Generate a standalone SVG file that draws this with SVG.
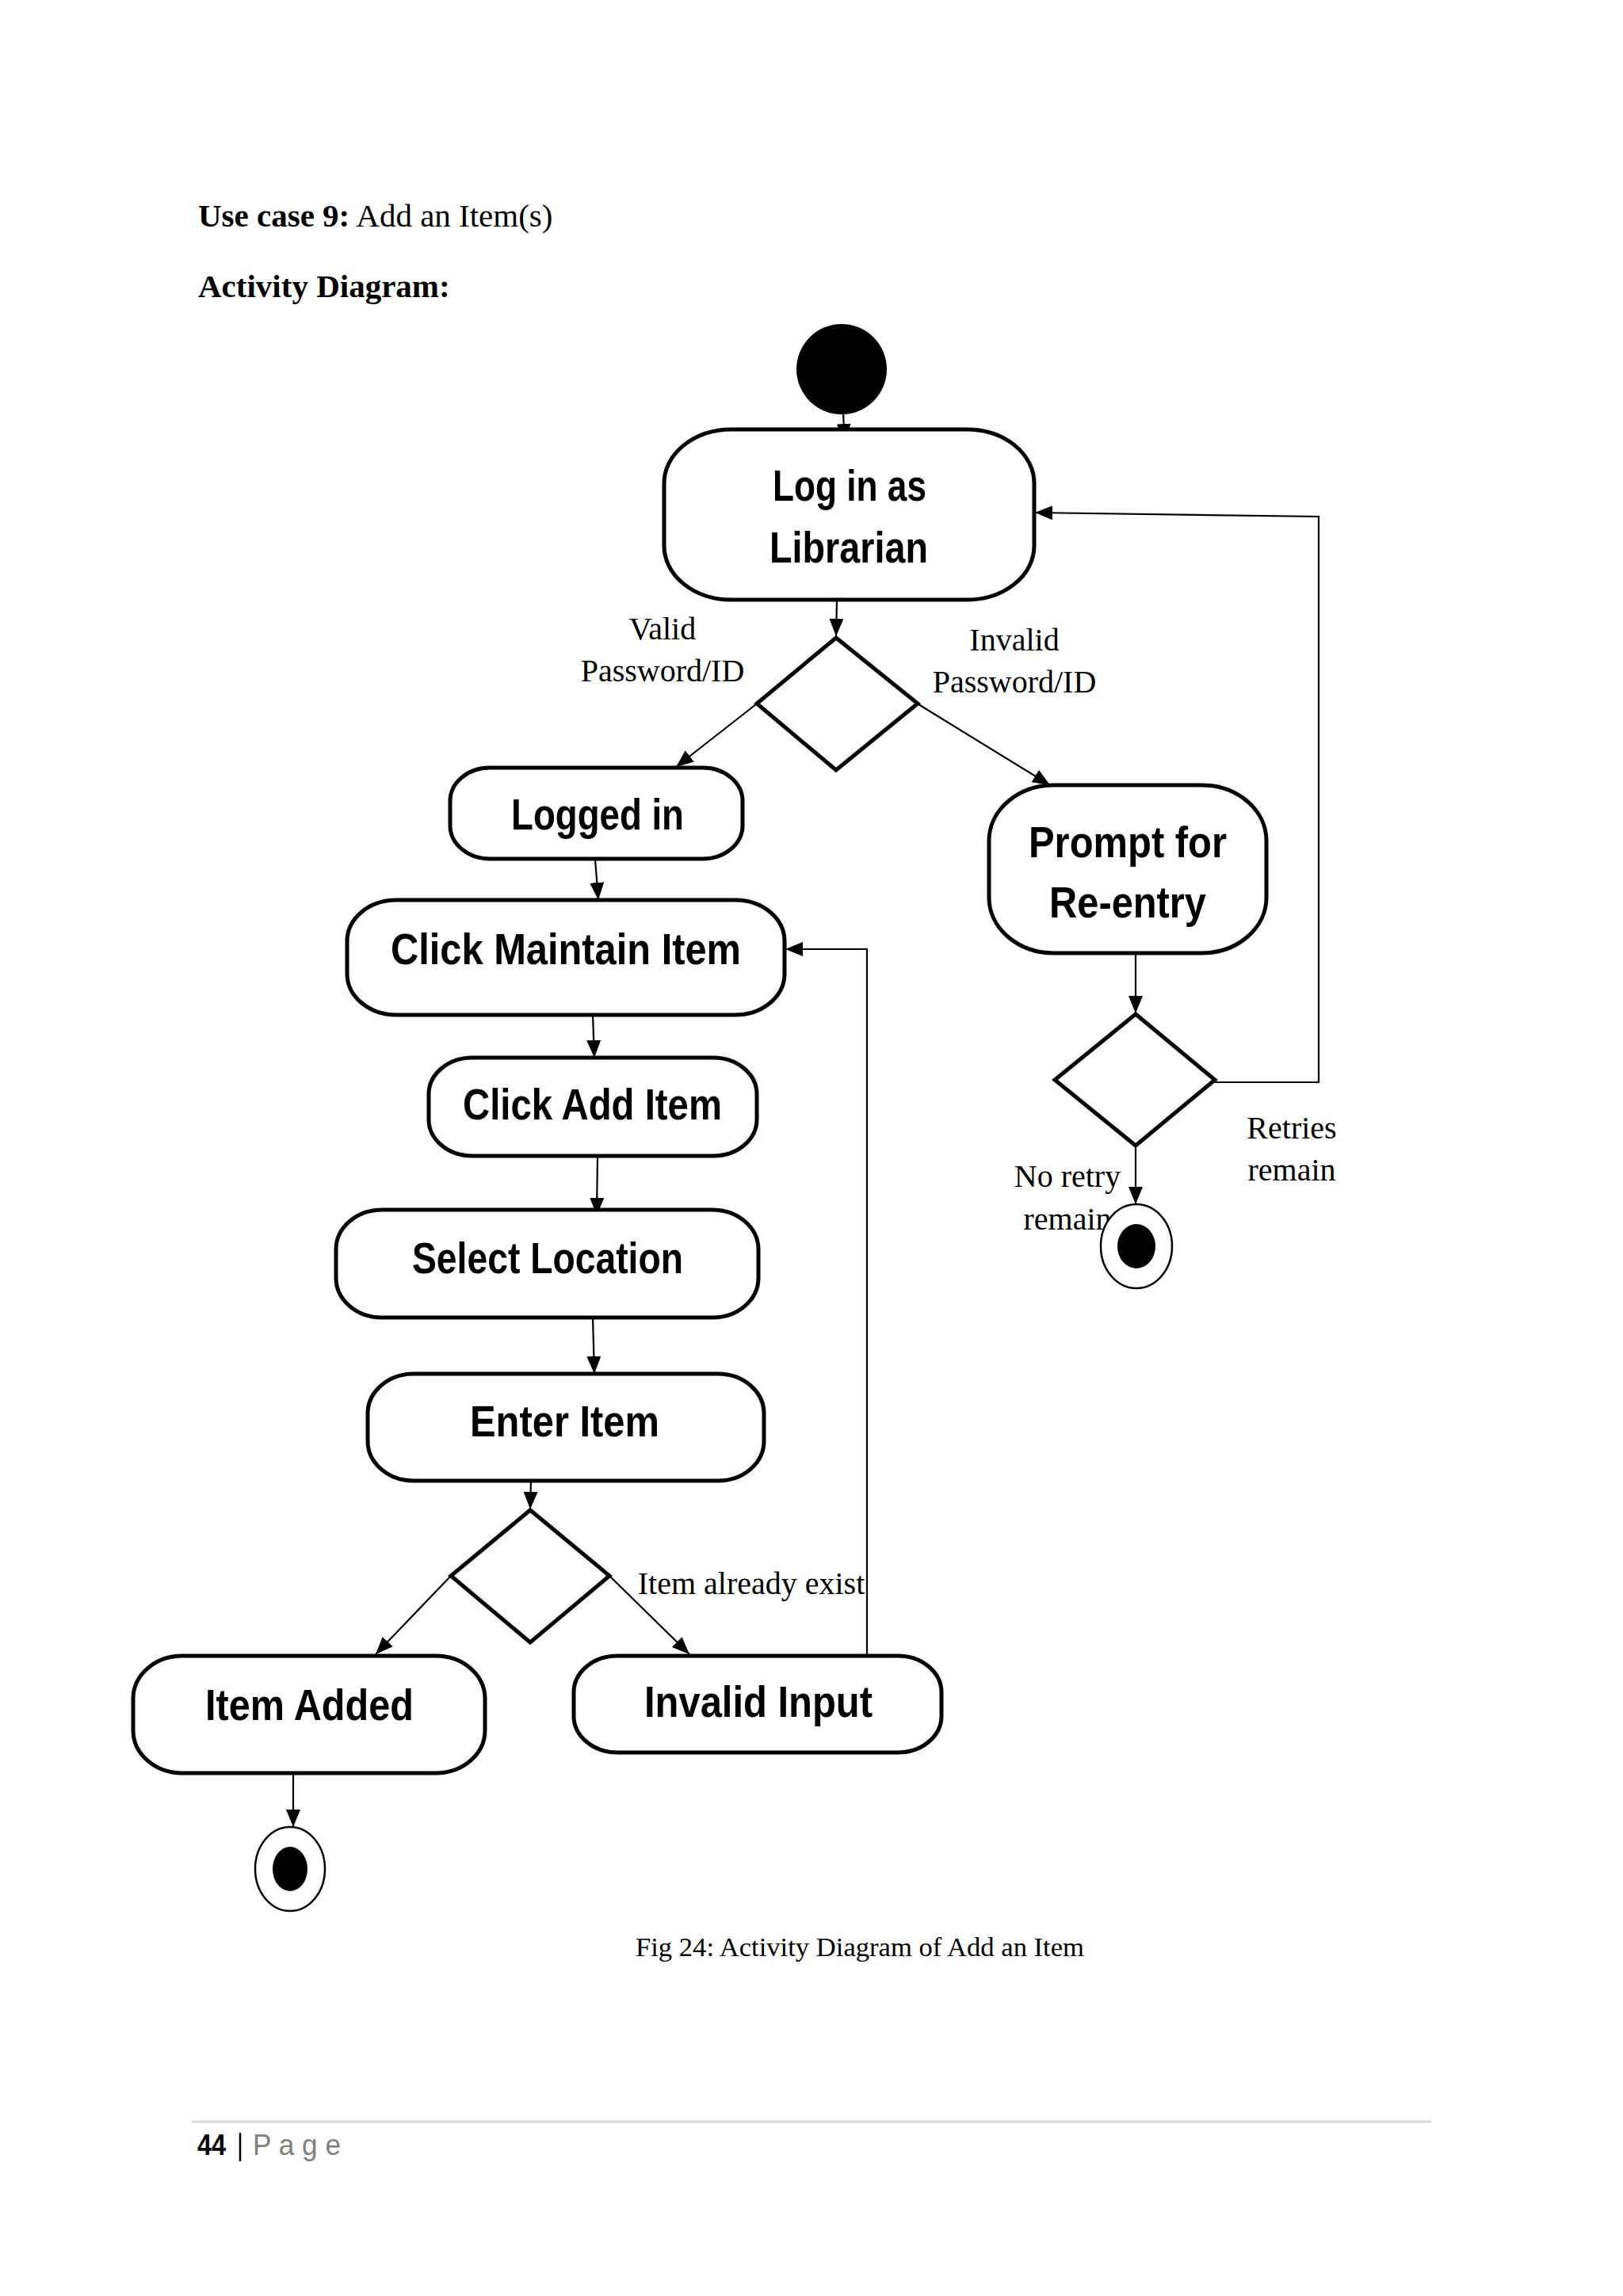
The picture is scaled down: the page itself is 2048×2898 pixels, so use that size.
<svg xmlns="http://www.w3.org/2000/svg" width="2048" height="2898" viewBox="0 0 2048 2898">
<style>
.box{fill:#fff;stroke:#000;stroke-width:5}
.dia{fill:#fff;stroke:#000;stroke-width:5}
.lbl{font-family:"Liberation Sans Narrow","Liberation Sans",Arial,sans-serif;font-weight:bold;font-size:55px;fill:#000}
.guard{font-family:"Liberation Serif","Times New Roman",serif;font-size:40px;fill:#000;text-anchor:middle}
.con{fill:none;stroke:#000;stroke-width:2.2}
.head{font-family:"Liberation Serif","Times New Roman",serif;font-size:41px;fill:#000}
</style>
<defs>
<marker id="arr" markerUnits="userSpaceOnUse" markerWidth="24" markerHeight="20" viewBox="0 0 24 20" refX="22" refY="9" orient="auto">
<path d="M0,0 L22,9 L0,18 z" fill="#000"/>
</marker>
</defs>
<rect width="2048" height="2898" fill="#fff"/>

<text class="head" x="250" y="286"><tspan font-weight="bold">Use case 9:</tspan> Add an Item(s)</text>
<text class="head" x="250" y="375" font-weight="bold" font-size="40">Activity Diagram:</text>

<g id="connectors">
<line class="con" x1="1064" y1="523" x2="1066" y2="557" marker-end="url(#arr)"/>
<line class="con" x1="1056" y1="758" x2="1055" y2="803" marker-end="url(#arr)"/>
<line class="con" x1="954" y1="889" x2="853" y2="968" marker-end="url(#arr)"/>
<line class="con" x1="1159" y1="889" x2="1325" y2="991" marker-end="url(#arr)"/>
<line class="con" x1="751" y1="1085" x2="755" y2="1136" marker-end="url(#arr)"/>
<line class="con" x1="748" y1="1281" x2="750" y2="1335" marker-end="url(#arr)"/>
<line class="con" x1="754" y1="1459" x2="753" y2="1534" marker-end="url(#arr)"/>
<line class="con" x1="748" y1="1663" x2="750" y2="1734" marker-end="url(#arr)"/>
<line class="con" x1="670" y1="1869" x2="669" y2="1905" marker-end="url(#arr)"/>
<line class="con" x1="569" y1="1989" x2="474" y2="2088" marker-end="url(#arr)"/>
<line class="con" x1="769" y1="1989" x2="870" y2="2088" marker-end="url(#arr)"/>
<polyline class="con" points="1094,2089 1094,1198 991,1198" marker-end="url(#arr)"/>
<line class="con" x1="370" y1="2239" x2="370" y2="2306" marker-end="url(#arr)"/>
<line class="con" x1="1433" y1="1203" x2="1433" y2="1279" marker-end="url(#arr)"/>
<polyline class="con" points="1533,1366 1664,1366 1664,652 1306,647" marker-end="url(#arr)"/>
<line class="con" x1="1433" y1="1446" x2="1433" y2="1520" marker-end="url(#arr)"/>
</g>

<g id="start">
<circle cx="1062" cy="466" r="57" fill="#000"/>
</g>

<g id="login">
<rect class="box" x="838" y="542" width="467" height="215" rx="85" ry="68"/>
<text class="lbl" x="975" y="632" textLength="194" lengthAdjust="spacingAndGlyphs">Log in as</text>
<text class="lbl" x="971" y="710" textLength="200" lengthAdjust="spacingAndGlyphs">Librarian</text>
</g>

<g id="decision1">
<polygon class="dia" points="1055,805 1158,888 1055,972 955,888"/>
</g>
<g id="guard-valid">
<text class="guard" x="836" y="807">Valid</text>
<text class="guard" x="836" y="860">Password/ID</text>
</g>
<g id="guard-invalid">
<text class="guard" x="1280" y="821">Invalid</text>
<text class="guard" x="1280" y="874">Password/ID</text>
</g>

<g id="loggedin">
<rect class="box" x="568" y="969" width="369" height="115" rx="50" ry="42"/>
<text class="lbl" x="645" y="1047" textLength="218" lengthAdjust="spacingAndGlyphs">Logged in</text>
</g>

<g id="prompt">
<rect class="box" x="1248" y="991" width="350" height="212" rx="82" ry="70"/>
<text class="lbl" x="1298" y="1082" textLength="250" lengthAdjust="spacingAndGlyphs">Prompt for</text>
<text class="lbl" x="1324" y="1158" textLength="198" lengthAdjust="spacingAndGlyphs">Re-entry</text>
</g>

<g id="maintain">
<rect class="box" x="438" y="1136" width="552" height="145" rx="62" ry="52"/>
<text class="lbl" x="493" y="1217" textLength="442" lengthAdjust="spacingAndGlyphs">Click Maintain Item</text>
</g>

<g id="decision2">
<polygon class="dia" points="1433,1280 1533,1363 1433,1446 1331,1363"/>
</g>
<g id="guard-noretry">
<text class="guard" x="1347" y="1498">No retry</text>
<text class="guard" x="1347" y="1552">remain</text>
</g>
<g id="guard-retries">
<text class="guard" x="1630" y="1437">Retries</text>
<text class="guard" x="1630" y="1490">remain</text>
</g>
<g id="end1">
<ellipse cx="1434" cy="1573" rx="45" ry="53" fill="#fff" stroke="#000" stroke-width="2.5"/>
<ellipse cx="1434" cy="1573" rx="24" ry="28" fill="#000"/>
</g>

<g id="addItem">
<rect class="box" x="541" y="1335" width="414" height="124" rx="55" ry="46"/>
<text class="lbl" x="584" y="1413" textLength="327" lengthAdjust="spacingAndGlyphs">Click Add Item</text>
</g>

<g id="selectLocation">
<rect class="box" x="424" y="1527" width="533" height="136" rx="58" ry="50"/>
<text class="lbl" x="520" y="1607" textLength="342" lengthAdjust="spacingAndGlyphs">Select Location</text>
</g>

<g id="enterItem">
<rect class="box" x="464" y="1734" width="500" height="135" rx="58" ry="50"/>
<text class="lbl" x="593" y="1813" textLength="239" lengthAdjust="spacingAndGlyphs">Enter Item</text>
</g>

<g id="decision3">
<polygon class="dia" points="669,1906 769,1989 669,2073 569,1989"/>
</g>
<g id="guard-exist">
<text class="guard" x="948" y="2012">Item already exist</text>
</g>

<g id="itemAdded">
<rect class="box" x="168" y="2090" width="444" height="148" rx="62" ry="54"/>
<text class="lbl" x="259" y="2171" textLength="263" lengthAdjust="spacingAndGlyphs">Item Added</text>
</g>

<g id="invalidInput">
<rect class="box" x="724" y="2090" width="464" height="122" rx="55" ry="46"/>
<text class="lbl" x="813" y="2167" textLength="288" lengthAdjust="spacingAndGlyphs">Invalid Input</text>
</g>

<g id="end2">
<ellipse cx="366" cy="2359" rx="44" ry="53" fill="#fff" stroke="#000" stroke-width="2.5"/>
<ellipse cx="366" cy="2359" rx="22" ry="28" fill="#000"/>
</g>

<text x="1085" y="2469" font-family="Liberation Serif,'Times New Roman',serif" font-size="34" text-anchor="middle" textLength="566" lengthAdjust="spacingAndGlyphs">Fig 24: Activity Diagram of Add an Item</text>

<line x1="242" y1="2678" x2="1806" y2="2678" stroke="#d9d9d9" stroke-width="3"/>
<text x="249" y="2720" font-family="Liberation Sans Narrow,'Liberation Sans',sans-serif" font-weight="bold" font-size="36" textLength="36" lengthAdjust="spacingAndGlyphs">44</text>
<line x1="303" y1="2692" x2="303" y2="2728" stroke="#000" stroke-width="2.5"/>
<text x="319" y="2720" font-family="'Liberation Sans',sans-serif" font-size="36" fill="#7f7f7f" textLength="111" lengthAdjust="spacingAndGlyphs">P a g e</text>
</svg>
